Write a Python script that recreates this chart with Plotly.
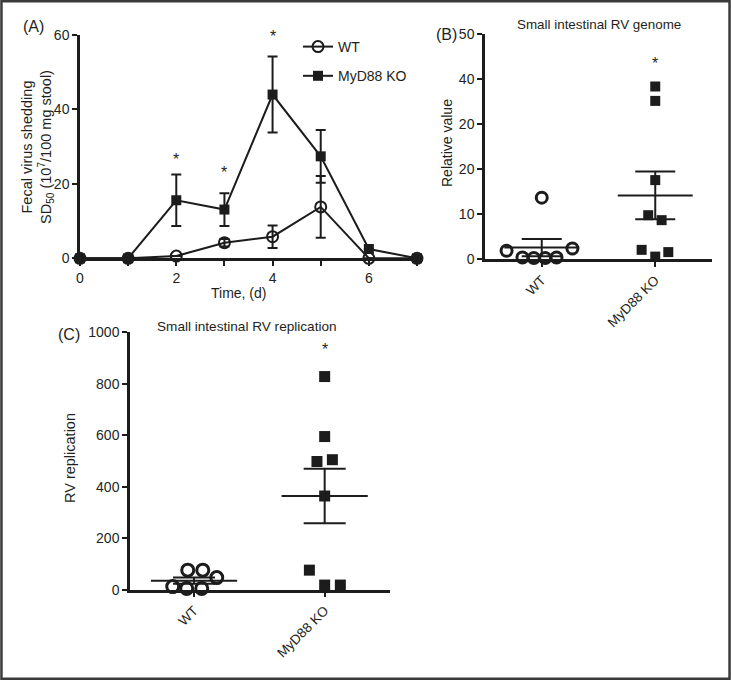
import plotly.graph_objects as go

W, H = 731, 680

# ---------------- data ----------------
# Panel A: fecal virus shedding time course
days = [0, 1, 2, 3, 4, 5, 6, 7]
wt_shed = [0, 0, 0.6, 4.2, 5.8, 13.8, 0, 0]
wt_shed_err = [0, 0, 0, 1.0, 3.0, 8.3, 0, 0]
ko_shed = [0, 0, 15.6, 13.1, 44.0, 27.4, 2.5, 0]
ko_shed_err = [0, 0, 6.9, 4.4, 10.2, 7.1, 0, 0]
a_star_x = [2, 3, 4]
a_star_y = [26.5, 23.0, 59.5]
a_xticks = [0, 1, 2, 3, 4, 5, 6, 7]
a_xticklabels = ["0", "", "2", "", "4", "", "6", ""]
a_yticks = [0, 20, 40, 60]

groups = ["WT", "MyD88 KO"]

# Panel B: small intestinal RV genome
b_wt = [13.7, 1.9, 0.4, 0.3, 0.3, 0.4, 2.4]
b_wt_jit = [0.0, -0.31, -0.17, -0.07, 0.03, 0.13, 0.27]
b_ko = [38.4, 35.2, 17.6, 9.8, 8.7, 2.1, 1.6, 0.6]
b_ko_jit = [0.0, 0.0, 0.0, -0.062, 0.056, -0.12, 0.115, 0.0]
b_mean = [2.6, 14.2]
b_sem = [1.9, 5.3]
b_star = [43.6]
b_yticks = [0, 10, 20, 30, 40, 50]
b_yticklabels = ["0", "10", "20", "20", "40", "50"]

# Panel C: small intestinal RV replication
c_wt = [76, 76, 47, 12, 5, 5]
c_wt_jit = [-0.048, 0.067, 0.174, -0.163, -0.056, 0.059]
c_ko = [828, 595, 498, 505, 364, 76, 18, 18]
c_ko_jit = [0.0, 0.0, -0.059, 0.059, 0.0, -0.117, 0.0, 0.12]
c_mean = [35, 364]
c_sem = [12, 106]
c_star = [935]
c_yticks = [0, 200, 400, 600, 800, 1000]

# ---------------- helpers ----------------
def px(x):
    return x / W

def py(y):
    return 1 - y / H

FONT = "Liberation Sans, Arial, Helvetica, sans-serif"
TXT = "#231f20"
LINE = "#1c1c1c"

fig = go.Figure()

# ---- Panel A ----
fig.add_trace(go.Scatter(
    x=days, y=wt_shed, name="WT", mode="lines+markers", legendgroup="wt",
    line=dict(color=LINE, width=2),
    marker=dict(symbol="circle-open", size=11, color=LINE, line=dict(width=2)),
    error_y=dict(type="data", array=wt_shed_err, color=LINE, thickness=2, width=5),
    cliponaxis=False, xaxis="x", yaxis="y",
))
fig.add_trace(go.Scatter(
    x=days, y=ko_shed, name="MyD88 KO", mode="lines+markers", legendgroup="ko",
    line=dict(color=LINE, width=2),
    marker=dict(symbol="square", size=10, color=LINE),
    error_y=dict(type="data", array=ko_shed_err, color=LINE, thickness=2, width=5),
    cliponaxis=False, xaxis="x", yaxis="y",
))

stars = [("x", "y", xv, yv) for xv, yv in zip(a_star_x, a_star_y)]


# ---- scatter-dot panels ----
def dot_panel(xa, ya, wt, wt_jit, ko, ko_jit, mean, sem, star, ms, cap):
    fig.add_trace(go.Scatter(
        x=[0 + j for j in wt_jit], y=wt, mode="markers", showlegend=False,
        marker=dict(symbol="circle-open", size=ms + 1, color=LINE, line=dict(width=3)),
        cliponaxis=False, xaxis=xa, yaxis=ya,
    ))
    fig.add_trace(go.Scatter(
        x=[1 + j for j in ko_jit], y=ko, mode="markers", showlegend=False,
        marker=dict(symbol="square", size=ms, color=LINE),
        cliponaxis=False, xaxis=xa, yaxis=ya,
    ))
    mx, my = [], []
    for i, m in enumerate(mean):
        mx += [i - 0.33, i + 0.33, None]
        my += [m, m, None]
    fig.add_trace(go.Scatter(
        x=mx, y=my, mode="lines", showlegend=False,
        line=dict(color=LINE, width=2), cliponaxis=False, xaxis=xa, yaxis=ya,
    ))
    fig.add_trace(go.Scatter(
        x=[0, 1], y=mean, mode="markers", showlegend=False,
        marker=dict(size=1, color="rgba(0,0,0,0)"),
        error_y=dict(type="data", array=sem, color=LINE, thickness=2, width=cap),
        cliponaxis=False, xaxis=xa, yaxis=ya,
    ))
    stars.append((xa, ya, 1, star[0]))

dot_panel("x2", "y2", b_wt, b_wt_jit, b_ko, b_ko_jit, b_mean, b_sem, b_star, 10, 20)
dot_panel("x3", "y3", c_wt, c_wt_jit, c_ko, c_ko_jit, c_mean, c_sem, c_star, 11, 21)

axis_common = dict(
    showgrid=False, zeroline=False, showline=True, linecolor=LINE, linewidth=2.5,
    ticks="outside", ticklen=5, tickwidth=2, tickcolor=LINE,
    tickfont=dict(size=14, color=TXT, family=FONT), automargin=False,
)
rot_font = dict(size=13.5, color=TXT, family=FONT)

fig.update_layout(
    width=W, height=H,
    margin=dict(l=0, r=0, t=0, b=0, pad=0, autoexpand=False),
    paper_bgcolor="white", plot_bgcolor="white",
    font=dict(family=FONT, color=TXT),
    showlegend=True,
    legend=dict(x=px(298), y=py(31), xanchor="left", yanchor="top",
                font=dict(size=14, color=TXT, family=FONT),
                bgcolor="rgba(0,0,0,0)", tracegroupgap=8, itemwidth=30),
    xaxis=dict(domain=[px(80), px(417)], range=[0, 7], anchor="y",
               tickmode="array", tickvals=a_xticks, ticktext=a_xticklabels, **axis_common),
    yaxis=dict(domain=[py(258.3), py(35)], range=[0, 60], anchor="x",
               tickmode="array", tickvals=a_yticks, **axis_common),
    xaxis2=dict(domain=[px(485), px(712)], range=[-0.5, 1.5], anchor="y2",
                tickmode="array", tickvals=[0, 1], ticktext=groups, tickangle=-45,
                **{**axis_common, "tickfont": rot_font}),
    yaxis2=dict(domain=[py(259.3), py(34.3)], range=[0, 50], anchor="x2",
                tickmode="array", tickvals=b_yticks, ticktext=b_yticklabels, **axis_common),
    xaxis3=dict(domain=[px(130), px(390)], range=[-0.49, 1.5], anchor="y3",
                tickmode="array", tickvals=[0, 1], ticktext=groups, tickangle=-45,
                **{**axis_common, "tickfont": rot_font}),
    yaxis3=dict(domain=[py(589.7), py(332.3)], range=[0, 1000], anchor="x3",
                tickmode="array", tickvals=c_yticks, **axis_common),
)

for xa, ya, xv, yv in stars:
    fig.add_annotation(text="*", x=xv, y=yv, xref=xa, yref=ya, showarrow=False,
                       xanchor="center", yanchor="middle",
                       font=dict(size=16, color=TXT, family=FONT))

ann = [
    dict(text="(A)", x=px(33), y=py(27), size=16),
    dict(text="Time, (d)", x=px(238), y=py(293), size=14),
    dict(text="Fecal virus shedding<br>SD<sub>50</sub> (10<sup>7</sup>/100 mg stool)",
         x=px(37), y=py(147), size=14.5, angle=-90),
    dict(text="(B)", x=px(446), y=py(34), size=16),
    dict(text="Small intestinal RV genome", x=px(599), y=py(25), size=13.4),
    dict(text="Relative value", x=px(447), y=py(143), size=14, angle=-90),
    dict(text="(C)", x=px(69), y=py(334), size=16),
    dict(text="Small intestinal RV replication", x=px(247), y=py(326), size=13.6),
    dict(text="RV replication", x=px(70), y=py(458), size=14.5, angle=-90),
]
for a in ann:
    fig.add_annotation(
        text=a["text"], x=a["x"], y=a["y"], xref="paper", yref="paper",
        xanchor="center", yanchor="middle", showarrow=False,
        textangle=a.get("angle", 0),
        font=dict(size=a["size"], color=TXT, family=FONT),
    )

# outer frame
fig.add_shape(type="rect", xref="paper", yref="paper", x0=0.002, y0=0.002, x1=0.998, y1=0.998,
              line=dict(color="#3a3a3a", width=2.5), fillcolor="rgba(0,0,0,0)")

fig.write_html(
    "out.html",
    config={"displayModeBar": False, "responsive": False},
    post_script=(
        "var s=document.createElement('style');"
        "s.textContent='html,body{margin:0!important;padding:0!important;"
        "overflow:hidden!important;width:731px;height:680px;}"
        "body>div{margin:0;padding:0;line-height:0;font-size:0;}';"
        "document.head.appendChild(s);"
    ),
)
